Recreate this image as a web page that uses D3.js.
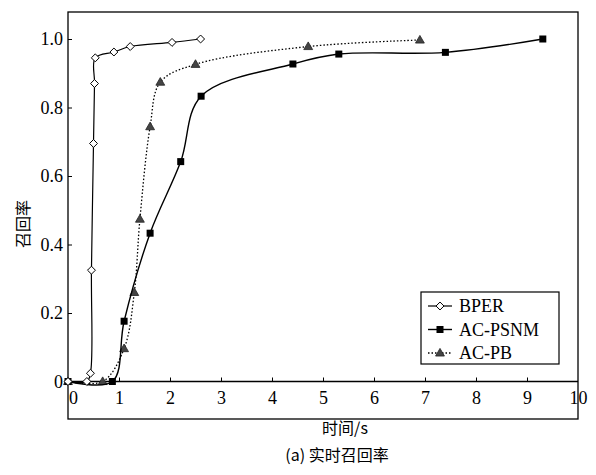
<!DOCTYPE html>
<html>
<head>
<meta charset="utf-8">
<script src="https://cdn.jsdelivr.net/npm/d3@7"></script>
<style>
  body { margin: 0; background: #fff; }
  text { font-family: "Liberation Serif", "DejaVu Serif", serif; fill: #000; }
  .cjk { font-family: "Noto Sans CJK SC", sans-serif; }
</style>
</head>
<body>
<div id="chart"></div>
<script>
// series values (time in s, recall 0..1)
const bperTime   = [0, 0.37, 0.44, 0.46, 0.50, 0.52, 0.535, 0.90, 1.22, 2.04, 2.60];
const bperRecall = [0, 0, 0.024, 0.325, 0.695, 0.87, 0.945, 0.962, 0.978, 0.99, 1.0];

const psnmTime   = [0, 0.87, 1.10, 1.61, 2.21, 2.61, 4.41, 5.31, 7.40, 9.31];
const psnmRecall = [0, 0, 0.176, 0.433, 0.642, 0.833, 0.927, 0.956, 0.961, 1.0];

const pbTime   = [0, 0.68, 1.10, 1.30, 1.41, 1.61, 1.81, 2.50, 4.71, 6.90];
const pbRecall = [0, 0, 0.096, 0.26, 0.474, 0.744, 0.874, 0.926, 0.978, 0.997];

const seriesNames = ["BPER", "AC-PSNM", "AC-PB"];
const xTicks = [0, 1, 2, 3, 4, 5, 6, 7, 8, 9, 10];
const yTicks = [0, 0.2, 0.4, 0.6, 0.8, 1.0];

const svgWidth = 596;
const svgHeight = 475;

const frame = { left: 68, right: 578, top: 12, bottom: 419 };

const svg = d3.select("#chart")
  .append("svg")
  .attr("width", svgWidth)
  .attr("height", svgHeight);

const x = d3.scaleLinear().domain([0, 10]).range([frame.left, frame.right]);
const y = d3.scaleLinear().domain([0, 1]).range([381.5, 39]);

// plot frame
svg.append("rect")
  .attr("x", frame.left)
  .attr("y", frame.top)
  .attr("width", frame.right - frame.left)
  .attr("height", frame.bottom - frame.top)
  .attr("fill", "none")
  .attr("stroke", "#000")
  .attr("stroke-width", 1.3);

// x axis sits on recall = 0, ticks point up
const xAxis = svg.append("g")
  .attr("transform", `translate(0, ${y(0)})`)
  .call(d3.axisBottom(x).tickValues(xTicks).tickSizeInner(-4).tickSizeOuter(0).tickPadding(9.5));
xAxis.select(".domain").remove();
xAxis.selectAll("text").attr("font-size", 18).attr("fill", "#000")
  .attr("font-family", "Liberation Serif");
xAxis.selectAll(".tick").filter(d => d === 0).select("text").attr("x", 5);
xAxis.selectAll(".tick").filter(d => d === 0 || d === 10).select("line").remove();

svg.append("line")
  .attr("x1", frame.left).attr("x2", frame.right)
  .attr("y1", y(0)).attr("y2", y(0))
  .attr("stroke", "#000").attr("stroke-width", 1.3);

// y axis, ticks point inward
const yAxis = svg.append("g")
  .attr("transform", `translate(${frame.left}, 0)`)
  .call(d3.axisLeft(y).tickValues(yTicks).tickSizeInner(-4).tickSizeOuter(0).tickPadding(5)
    .tickFormat(d => d === 0 ? "0" : d3.format(".1f")(d)));
yAxis.select(".domain").remove();
yAxis.selectAll("text").attr("font-size", 18).attr("fill", "#000")
  .attr("font-family", "Liberation Serif");

// axis titles
svg.append("text")
  .attr("class", "cjk")
  .attr("x", 345)
  .attr("y", 434)
  .attr("text-anchor", "middle")
  .attr("font-size", 16)
  .text("时间/s");

svg.append("text")
  .attr("class", "cjk")
  .attr("transform", "translate(29, 224) rotate(-90)")
  .attr("text-anchor", "middle")
  .attr("font-size", 16)
  .text("召回率");

svg.append("text")
  .attr("class", "cjk")
  .attr("x", 337)
  .attr("y", 461)
  .attr("text-anchor", "middle")
  .attr("font-size", 16)
  .text("(a) 实时召回率");

// lines
const line = d3.line()
  .x(d => x(d[0]))
  .y(d => y(d[1]))
  .curve(d3.curveCatmullRom.alpha(0.5));

const series = [
  { name: seriesNames[0], pts: d3.zip(bperTime, bperRecall), dash: null, width: 1.2, marker: "diamond" },
  { name: seriesNames[1], pts: d3.zip(psnmTime, psnmRecall), dash: null, width: 1.4, marker: "square" },
  { name: seriesNames[2], pts: d3.zip(pbTime, pbRecall), dash: "1.5,2", width: 1.3, marker: "triangle" }
];

function drawMarker(g, type, cx, cy) {
  if (type === "diamond") {
    g.append("path")
      .attr("d", d3.symbol(d3.symbolDiamond2, 40)())
      .attr("transform", `translate(${cx}, ${cy})`)
      .attr("fill", "#fff").attr("stroke", "#000").attr("stroke-width", 1);
  } else if (type === "square") {
    g.append("rect")
      .attr("x", cx - 3.5).attr("y", cy - 3.5)
      .attr("width", 7).attr("height", 7)
      .attr("fill", "#000");
  } else {
    g.append("path")
      .attr("d", d3.symbol(d3.symbolTriangle, 34)())
      .attr("transform", `translate(${cx}, ${cy + 0.5})`)
      .attr("fill", "#444").attr("stroke", "#222").attr("stroke-width", 0.8);
  }
}

// draw PB first so the solid lines sit on top
[series[2], series[1], series[0]].forEach(s => {
  svg.append("path")
    .datum(s.pts)
    .attr("d", line)
    .attr("fill", "none")
    .attr("stroke", "#000")
    .attr("stroke-width", s.width)
    .attr("stroke-dasharray", s.dash);
  const g = svg.append("g");
  s.pts.forEach(p => drawMarker(g, s.marker, x(p[0]), y(p[1])));
});

// legend
const legend = svg.append("g");
legend.append("rect")
  .attr("x", 421).attr("y", 292)
  .attr("width", 138).attr("height", 72)
  .attr("fill", "#fff")
  .attr("stroke", "#000")
  .attr("stroke-width", 1.2);

series.forEach((s, i) => {
  const ly = 306 + i * 23.5;
  legend.append("line")
    .attr("x1", 428).attr("x2", 452)
    .attr("y1", ly).attr("y2", ly)
    .attr("stroke", "#000")
    .attr("stroke-width", s.width)
    .attr("stroke-dasharray", s.dash);
  drawMarker(legend, s.marker, 440, ly);
  legend.append("text")
    .attr("x", 459)
    .attr("y", ly)
    .attr("dy", "0.35em")
    .attr("font-size", 18)
    .text(s.name);
});
</script>
</body>
</html>
